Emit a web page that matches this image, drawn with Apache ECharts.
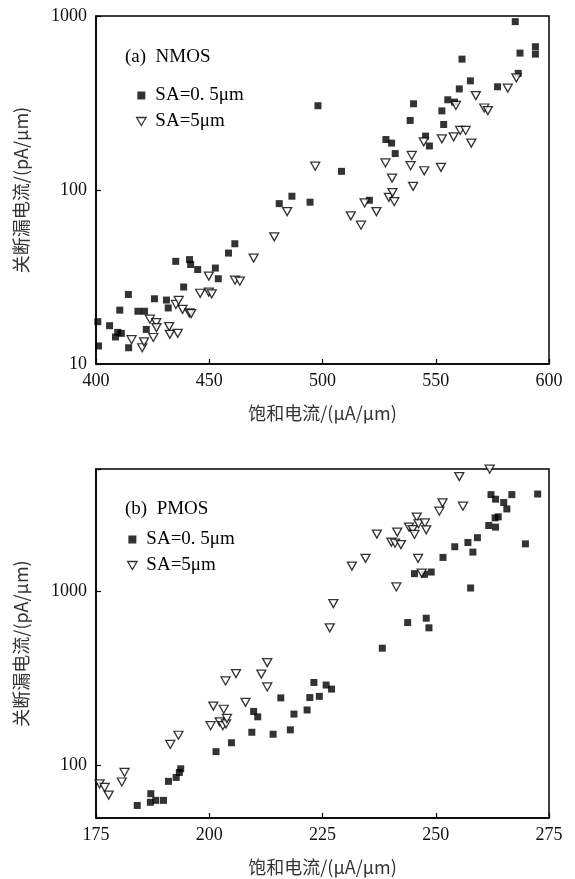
<!DOCTYPE html>
<html>
<head>
<meta charset="utf-8">
<script src="https://cdn.jsdelivr.net/npm/echarts@6/dist/echarts.min.js"></script>
<style>
html,body{margin:0;padding:0;background:#fff;}
#c{width:575px;height:879px;}
</style>
</head>
<body>
<div id="c"></div>
<script>
// ---------- Data ----------
const seriesNames = ['SA=0. 5μm', 'SA=5μm'];
const panelTitles = ['(a)  NMOS', '(b)  PMOS'];
const xAxisName = '饱和电流/(μA/μm)';
const yAxisName = '关断漏电流/(pA/μm)';

// NMOS, SA=0.5um
const nmosSqX = [400.8,401.1,406.0,408.6,409.6,411.2,410.5,414.3,414.4,418.5,421.4,422.2,425.8,431.1,431.9,435.2,441.3,441.8,438.7,444.9,452.7,454.0,458.5,461.3,480.9,486.5,494.5,498.0,508.4,520.7,528.0,530.5,532.1,538.7,540.2,545.5,547.2,552.7,553.5,555.3,558.3,560.4,561.6,565.3,577.3,585.1,586.4,587.2,594.0,594.0];
const nmosSqY = [17.5,12.7,16.6,14.3,15.2,15.0,20.4,25.1,12.4,20.1,20.1,15.8,23.7,23.3,21.0,38.9,39.8,37.3,27.7,34.9,35.6,30.9,43.4,49.1,83.5,92.1,85.1,305,128,87.3,195,186,162,251,313,204,179,285,238,330,320,381,565,424,392,928,468,612,666,604];
// NMOS, SA=5um
const nmosTrX = [415.7,420.4,421.2,423.8,425.3,426.6,426.7,432.3,432.6,436.1,435.3,436.5,438.2,441.2,442.0,449.8,446.0,449.8,451.1,461.4,463.5,469.6,478.7,484.4,496.8,512.5,517.0,518.6,523.8,527.8,529.3,530.7,530.9,531.7,538.9,539.4,540.0,544.9,544.7,552.3,552.7,557.9,560.8,563.2,565.7,558.9,567.7,571.4,573.0,581.8,585.6];
const nmosTrY = [13.8,12.4,13.4,18.1,14.2,17.3,16.2,16.4,14.8,15.0,22.0,23.2,20.6,19.7,19.5,32.0,25.5,25.9,25.3,30.3,29.9,40.6,53.8,75.2,137,71.0,62.8,84.3,75.2,143,90.8,117,96.6,85.7,138,158,105,129,189,135,197,202,220,220,186,306,349,296,286,385,441];

// PMOS, SA=0.5um
const pmosSqX = [184.1,187.0,187.1,188.2,189.9,191.0,192.7,193.4,193.7,201.5,204.9,209.4,209.8,210.7,214.1,215.8,217.9,218.7,221.6,222.2,223.1,224.3,225.8,227.0,238.2,243.8,247.9,248.5,245.3,247.5,249.0,251.6,254.2,257.1,258.2,259.2,257.7,261.7,263.2,263.1,263.8,262.2,263.2,265.0,265.7,266.8,272.5,269.8];
const pmosSqY = [59.0,61.5,68.9,63.1,63.1,81.1,85.4,91.2,95.7,120,135,155,204,190,151,244,160,197,208,245,299,249,289,274,470,659,698,615,1257,1245,1284,1557,1792,1896,1670,2020,1040,2372,2322,2624,2660,3566,3357,3212,2952,3566,3594,1862];
// PMOS, SA=5um
const pmosTrX = [175.8,176.9,177.8,180.7,181.3,191.4,193.2,200.3,200.9,202.3,203.0,203.2,203.7,203.9,203.6,205.9,208.0,211.5,212.8,212.8,226.6,227.4,231.5,234.5,237.0,240.2,241.0,241.5,242.3,241.3,244.1,244.9,245.3,245.8,246.2,246.1,246.9,247.6,247.9,250.8,251.5,255.2,256.0,261.9];
const pmosTrY = [78.5,74.8,67.6,80.4,91.2,132,149,169,219,178,169,210,173,186,305,336,230,334,389,282,615,847,1389,1538,2119,1905,1879,2174,1843,1054,2322,2250,2108,2649,2428,1538,1267,2453,2241,2866,3199,4520,3061,4990];

// Axis settings
const xMin = [400, 175], xMax = [600, 275], xStep = [50, 25];
const yMin = [10, 50], yMax = [1000, 5000];

// ---------- Chart ----------
const zip = (a, b) => a.map((v, i) => [v, b[i]]);
const TRI = 'path://M0,0L10,0L5,8.5Z';
const SERIF = '"Liberation Serif","DejaVu Serif",serif';
const CJK = '"Noto Sans CJK SC","Noto Sans",sans-serif';

const grids = [
  { left: 96, top: 16, width: 453, height: 348 },
  { left: 96, top: 469, width: 453, height: 349 }
];

function xAxis(i) {
  return {
    gridIndex: i, type: 'value', min: xMin[i], max: xMax[i], interval: xStep[i],
    name: xAxisName, nameLocation: 'middle', nameGap: 40,
    nameTextStyle: { fontFamily: CJK, fontSize: 18, color: '#333' },
    axisLine: { lineStyle: { color: '#000', width: 1.5 } },
    axisTick: { inside: true, length: 5, lineStyle: { color: '#000', width: 1.2 } },
    axisLabel: { margin: 8, fontFamily: SERIF, fontSize: 18, color: '#111' },
    splitLine: { show: false }
  };
}
function yAxis(i) {
  return {
    gridIndex: i, type: 'log', logBase: 10, min: yMin[i], max: yMax[i],
    name: yAxisName, nameLocation: 'middle', nameGap: 66,
    nameTextStyle: { fontFamily: CJK, fontSize: 18, color: '#333' },
    axisLine: { lineStyle: { color: '#000', width: 1.5 } },
    axisTick: { inside: true, length: 5, lineStyle: { color: '#000', width: 1.2 } },
    axisLabel: {
      margin: 9, fontFamily: SERIF, fontSize: 18, color: '#111',
      formatter: v => { const l = Math.log10(v); return Math.abs(l - Math.round(l)) < 1e-6 ? String(Math.round(v)) : ''; }
    },
    splitLine: { show: false }
  };
}

const sqStyle = { symbol: 'rect', symbolSize: 7, itemStyle: { color: '#000' } };
const trStyle = { symbol: TRI, symbolSize: [9, 8], itemStyle: { color: '#fff', borderColor: '#000', borderWidth: 1.3 } };

const legendData = [
  { name: seriesNames[0], icon: 'path://M0,0H7V7H0Z', itemStyle: { color: '#000' } },
  { name: seriesNames[1], icon: TRI, itemStyle: { color: '#fff', borderColor: '#000', borderWidth: 1.3 } }
];
function legend(left, top) {
  return {
    orient: 'vertical', left: left, top: top, itemWidth: 10, itemHeight: 8, itemGap: 7,
    selectedMode: false, data: legendData,
    textStyle: { fontFamily: SERIF, fontSize: 19, lineHeight: 18, color: '#000', padding: [0, 0, 0, 4] }
  };
}

const option = {
  animation: false,
  backgroundColor: '#fff',
  title: [
    { text: panelTitles[0], left: 120, top: 43, textStyle: { fontFamily: SERIF, fontSize: 19, fontWeight: 'normal', color: '#000' } },
    { text: panelTitles[1], left: 120, top: 495, textStyle: { fontFamily: SERIF, fontSize: 19, fontWeight: 'normal', color: '#000' } }
  ],
  legend: [legend(131, 81), legend(122, 525)],
  grid: grids.map(g => Object.assign({ show: true, borderColor: '#000', borderWidth: 1.5, backgroundColor: 'transparent' }, g)),
  xAxis: [xAxis(0), xAxis(1)],
  yAxis: [yAxis(0), yAxis(1)],
  series: [
    Object.assign({ type: 'scatter', name: seriesNames[0], xAxisIndex: 0, yAxisIndex: 0, data: zip(nmosSqX, nmosSqY) }, sqStyle),
    Object.assign({ type: 'scatter', name: seriesNames[1], xAxisIndex: 0, yAxisIndex: 0, data: zip(nmosTrX, nmosTrY) }, trStyle),
    Object.assign({ type: 'scatter', name: seriesNames[0], xAxisIndex: 1, yAxisIndex: 1, data: zip(pmosSqX, pmosSqY) }, sqStyle),
    Object.assign({ type: 'scatter', name: seriesNames[1], xAxisIndex: 1, yAxisIndex: 1, data: zip(pmosTrX, pmosTrY) }, trStyle)
  ]
};

const chart = echarts.init(document.getElementById('c'), null, { renderer: 'canvas' });
chart.setOption(option);
</script>
</body>
</html>
